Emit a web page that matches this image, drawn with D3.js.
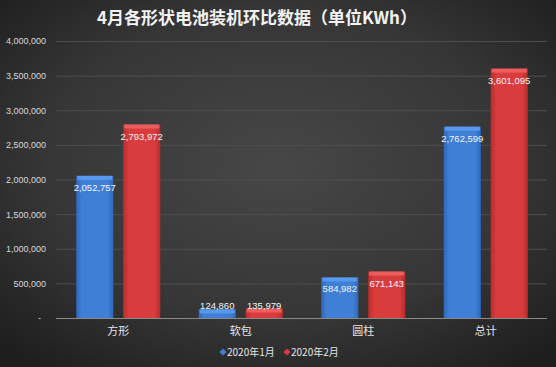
<!DOCTYPE html>
<html><head><meta charset="utf-8">
<script src="https://cdn.jsdelivr.net/npm/d3@7/dist/d3.min.js"></script>
<style>body{margin:0;background:#2a2a2a}svg{display:block}</style>
</head><body>
<svg id="c" width="556" height="367"></svg>
<script>
const title = "4月各形状电池装机环比数据（单位KWh）";
const categories = ["方形", "软包", "圆柱", "总计"];
const seriesNames = ["2020年1月", "2020年2月"];
const jan = [2052757, 124860, 584982, 2762599];
const feb = [2793972, 135979, 671143, 3601095];
const yTicks = [0, 500000, 1000000, 1500000, 2000000, 2500000, 3000000, 3500000, 4000000];

const W = 556, H = 367;
const svg = d3.select("#c");
const defs = svg.append("defs");
const bg = defs.append("radialGradient").attr("id","bg").attr("cx","50%").attr("cy","45%").attr("r","70%");
bg.append("stop").attr("offset","0%").attr("stop-color","#474747");
bg.append("stop").attr("offset","60%").attr("stop-color","#363636");
bg.append("stop").attr("offset","100%").attr("stop-color","#1e1e1e");
svg.append("rect").attr("width",W).attr("height",H).attr("fill","url(#bg)");

const colors = [["#5b9cf0","#3f7fd6","#2f68b8"],["#f06060","#d83c3c","#b82c2c"]];
colors.forEach((c,i)=>{
  const g = defs.append("linearGradient").attr("id","g"+i).attr("x1","0").attr("x2","1").attr("y1","0").attr("y2","0");
  g.append("stop").attr("offset","0%").attr("stop-color",c[2]);
  g.append("stop").attr("offset","15%").attr("stop-color",c[1]);
  g.append("stop").attr("offset","85%").attr("stop-color",c[1]);
  g.append("stop").attr("offset","100%").attr("stop-color",c[2]);
});

const x0 = d3.scaleBand().domain(categories).range([57, 547]).paddingInner(0.314).paddingOuter(0.157);
const x1 = d3.scaleBand().domain([0,1]).range([0, x0.bandwidth()]).paddingInner(0.21);
const y = d3.scaleLinear().domain([0, 4000000]).range([318, 41]);

svg.append("text").attr("x", 257).attr("y", 24).attr("text-anchor","middle")
  .attr("fill","#f2f2f2").attr("font-family","'Noto Sans CJK SC', sans-serif")
  .attr("font-weight","bold").attr("font-size",17).text(title);

// grid
svg.append("g").selectAll("line").data(yTicks.slice(1)).join("line")
  .attr("x1",56).attr("x2",547).attr("y1",d=>y(d)+0.5).attr("y2",d=>y(d)+0.5)
  .attr("stroke","#4e4e4e").attr("stroke-width",1);
svg.append("line").attr("x1",56).attr("x2",547).attr("y1",y(0)+0.5).attr("y2",y(0)+0.5)
  .attr("stroke","#8a8a8a").attr("stroke-width",1.2);

const fmt = d3.format(",");
const yAxis = d3.axisLeft(y).tickValues(yTicks).tickSize(0).tickPadding(0)
  .tickFormat(d => d === 0 ? "-" : fmt(d));
const ya = svg.append("g").attr("transform","translate(46,0)").call(yAxis);
ya.select(".domain").remove();
ya.selectAll("text").attr("fill","#d9d9d9").attr("font-size",9)
  .attr("font-family","'Liberation Sans', Arial, sans-serif")
  .attr("dx", d => d === 0 ? -5 : 0);

const xAxis = d3.axisBottom(x0).tickSize(0).tickPadding(0);
const xa = svg.append("g").attr("transform","translate(0,335)").call(xAxis);
xa.select(".domain").remove();
xa.selectAll("text").attr("fill","#e6e6e6").attr("font-size",11).attr("dy","0")
  .attr("font-family","'Noto Sans CJK SC', sans-serif");

const series = [jan, feb];
series.forEach((vals, si) => {
  const g = svg.append("g");
  categories.forEach((cat, ci) => {
    const v = vals[ci];
    const bx = x0(cat) + x1(si), bw = x1.bandwidth();
    const top = y(v), h = y(0) - top;
    g.append("rect").attr("x",bx).attr("y",top).attr("width",bw).attr("height",h)
      .attr("fill","url(#g"+si+")");
    g.append("rect").attr("x",bx+1).attr("y",top).attr("width",bw-2).attr("height",Math.min(4,h))
      .attr("fill",colors[si][0]).attr("opacity",0.9);
    const ly = h > 20 ? top + 15 : top;
    g.append("text").attr("x", bx + bw/2).attr("y", ly).attr("text-anchor","middle")
      .attr("fill","#f5f5f5").attr("font-size",9.5)
      .attr("font-family","'Liberation Sans', Arial, sans-serif").text(fmt(v));
  });
});

// legend
const leg = svg.append("g").attr("transform","translate(0,352)");
const lx = [223, 287];
seriesNames.forEach((n,i)=>{
  leg.append("rect").attr("x",lx[i]-2.5).attr("y",-2.5).attr("width",5).attr("height",5)
    .attr("transform",`rotate(45 ${lx[i]} 0)`).attr("fill",colors[i][1]);
  leg.append("text").attr("x",lx[i]+4).attr("y",4).attr("fill","#e6e6e6").attr("font-size",10)
    .attr("font-family","'Noto Sans CJK SC', sans-serif").text(n);
});
</script>
</body></html>
